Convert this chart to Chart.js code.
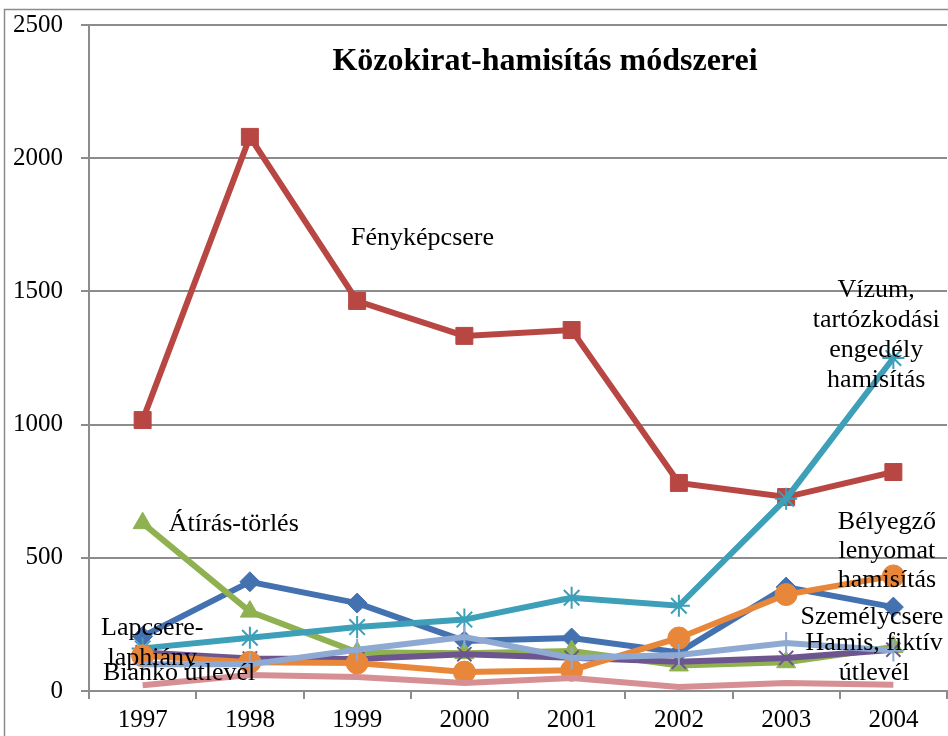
<!DOCTYPE html>
<html>
<head>
<meta charset="utf-8">
<script src="https://cdn.jsdelivr.net/npm/chart.js@4.4.1/dist/chart.umd.min.js"></script>
<style>
  html, body { margin: 0; padding: 0; background: #fff; overflow: hidden; }
  #wrap { width: 960px; height: 736px; }
</style>
</head>
<body>
<div id="wrap"><canvas id="chart" width="960" height="736"></canvas></div>
<script>
/* Közokirat-hamisítás módszerei — adatok */
const years        = ['1997', '1998', '1999', '2000', '2001', '2002', '2003', '2004'];
const yTicks       = [0, 500, 1000, 1500, 2000, 2500];

const lapcsere     = [205, 410, 330, 188, 199, 145, 390, 315];
const fenykep      = [1017, 2080, 1464, 1333, 1355, 781, 728, 822];
const atiras       = [630, 298, 145, 142, 150, 96, 108, 165];
const szemelycsere = [145, 122, 120, 138, 125, 110, 124, 155];
const vizum        = [160, 200, 240, 268, 350, 320, 722, 1250];
const belyegzo     = [132, 108, 105, 71, 78, 199, 362, 432];
const hamis        = [100, 100, 155, 203, 124, 135, 180, 152];
const bianko       = [22, 60, 53, 30, 49, 15, 30, 23];

const FONT = "'Liberation Serif', 'Times New Roman', serif";
const GRID = '#8c8c8c';

// series in Excel order (later ones are drawn on top)
const series = [
  { label: 'Lapcsere-laphiány',  data: lapcsere,     color: '#4471b0', style: 'rectRot',  r: 10 },
  { label: 'Fényképcsere',       data: fenykep,      color: '#b84744', style: 'rect',     r: 12 },
  { label: 'Átírás-törlés',      data: atiras,       color: '#8fb150', style: 'triangle', r: 11 },
  { label: 'Személycsere',       data: szemelycsere, color: '#6d5590', style: 'crossRot', r: 10 },
  { label: 'Vízum, tartózkodási engedély hamisítás', data: vizum, color: '#3d9fb8', style: 'star', r: 11 },
  { label: 'Bélyegző lenyomat hamisítás', data: belyegzo, color: '#e8873a', style: 'circle', r: 11 },
  { label: 'Hamis, fiktív útlevél', data: hamis,     color: '#8eaad3', style: 'cross',    r: 11 },
  { label: 'Bianko útlevél',     data: bianko,       color: '#d69093', style: 'circle',   r: 0 },
];

// in-plot text labels: lines, category position, value position, line gap
const notes = [
  { lines: ['Fényképcsere'], x: 2.61, y: 1700 },
  { lines: ['Vízum,', 'tartózkodási', 'engedély', 'hamisítás'], x: 6.84, y: 1505 },
  { lines: ['Átírás-törlés'], x: 0.85, y: 627 },
  { lines: ['Bélyegző', 'lenyomat', 'hamisítás'], x: 6.94, y: 634, gap: 29 },
  { lines: ['Személycsere'], x: 6.80, y: 278 },
  { lines: ['Hamis, fiktív', 'útlevél'], x: 6.82, y: 180 },
  { lines: ['Lapcsere-', 'laphiány'], x: 0.09, y: 236 },
  { lines: ['Bianko útlevél'], x: 0.34, y: 68 },
];

const frame = {
  id: 'frame',
  beforeDraw(chart) {
    const ctx = chart.ctx;
    ctx.save();
    ctx.strokeStyle = GRID;
    ctx.lineWidth = 1.5;
    ctx.strokeRect(4.5, 9.5, 2000, 2000);
    ctx.restore();
  },
  afterDatasetsDraw(chart) {
    const ctx = chart.ctx;
    const xs = chart.scales.x, ys = chart.scales.y;
    const step = xs.getPixelForValue(1) - xs.getPixelForValue(0);
    ctx.save();
    ctx.fillStyle = '#000';
    ctx.textAlign = 'center';
    ctx.textBaseline = 'middle';
    ctx.font = '26px ' + FONT;
    notes.forEach(n => {
      const px = xs.getPixelForValue(0) + n.x * step;
      const py = ys.getPixelForValue(n.y);
      const gap = n.gap || 30;
      n.lines.forEach((t, i) => ctx.fillText(t, px, py + i * gap));
    });
    // title
    ctx.font = 'bold 32px ' + FONT;
    ctx.fillText('Közokirat-hamisítás módszerei', 545, 62);
    ctx.restore();
  }
};

new Chart(document.getElementById('chart'), {
  type: 'line',
  data: {
    labels: years,
    datasets: series.map((s, i) => ({
      label: s.label,
      data: s.data,
      order: series.length - i,
      borderColor: s.color,
      backgroundColor: s.color,
      borderWidth: 6,
      tension: 0,
      pointStyle: s.style,
      pointRadius: s.r,
      pointBorderWidth: (s.style === 'star' || s.style.startsWith('cross')) ? 2 : 1,
      pointBorderColor: s.color,
      pointBackgroundColor: s.color,
    })),
  },
  options: {
    responsive: false,
    animation: false,
    layout: { padding: { top: 25, right: 5, left: 0, bottom: 0 } },
    plugins: {
      legend: { display: false },
      title: { display: false },
      tooltip: { enabled: false },
    },
    scales: {
      x: {
        offset: true,
        grid: { offset: true, drawOnChartArea: false, color: GRID, lineWidth: 2, tickLength: 8 },
        border: { color: GRID, width: 2 },
        ticks: { color: '#000', font: { family: FONT, size: 25 }, padding: 6, maxRotation: 0 },
        afterFit: s => { s.height = 45; s.paddingLeft = 0; s.paddingRight = 0; },
      },
      y: {
        min: 0,
        max: 2500,
        afterBuildTicks: s => { s.ticks = yTicks.map(v => ({ value: v })); },
        grid: { color: GRID, lineWidth: 2, tickLength: 8 },
        border: { color: GRID, width: 2 },
        ticks: { color: '#000', font: { family: FONT, size: 25 }, padding: 18, callback: v => String(v) },
        afterFit: s => { s.width = 89; s.paddingTop = 0; s.paddingBottom = 0; },
      },
    },
  },
  plugins: [frame],
});
</script>
</body>
</html>
